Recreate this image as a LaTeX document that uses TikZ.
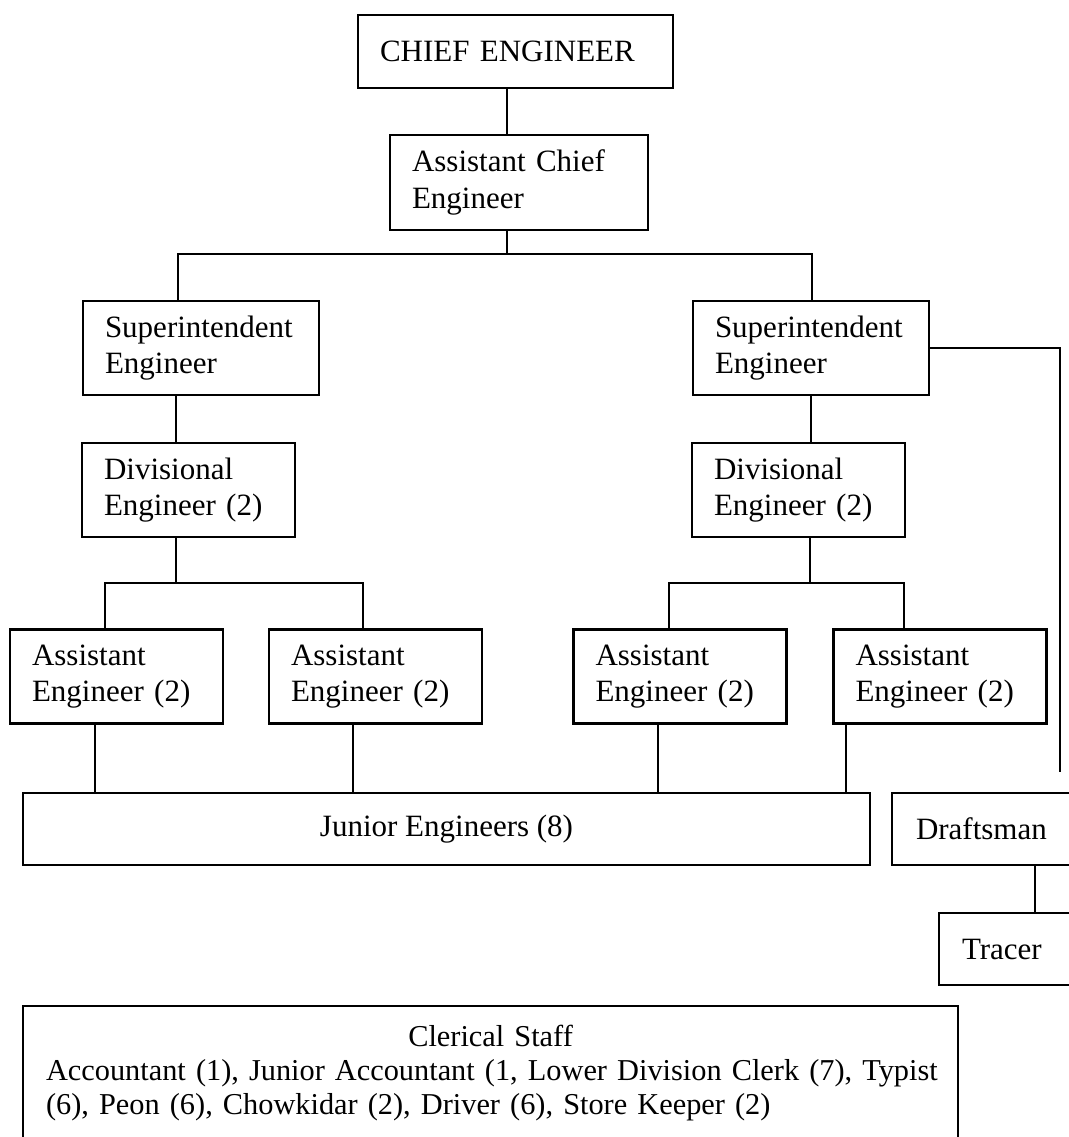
\documentclass[tikz,border=0pt]{standalone}
\usepackage{fontspec}
\setmainfont{Liberation Serif}
\usepackage{tikz}

\begin{document}
\begin{tikzpicture}[x=0.75pt,y=0.75pt,yscale=-1,xscale=1,
  post/.style={draw, line width=1.6pt, align=left, inner xsep=16.5pt, inner ysep=0pt, font=\fontsize{23.25pt}{27.5pt}\selectfont},
  link/.style={line width=1.6pt}]
%set diagram to the page, 1069 wide and 1137 high
\path[use as bounding box, clip] (0,0) rectangle (1069,1137);
% Text Node
\node[post, minimum height=54.75pt, text width=203.25pt] (chief) at (515.5,51.5) {CHIEF ENGINEER};
% Text Node
\node[post, minimum height=71.25pt, text width=160.5pt] (ace) at (519,182.5) {Assistant Chief\\Engineer};
% Text Node
\node[post, minimum height=70.5pt, text width=144pt] (supL) at (201,348) {Superintendent\\Engineer};
% Text Node
\node[post, minimum height=70.5pt, text width=144pt] (supR) at (811,348) {Superintendent\\Engineer};
% Text Node
\node[post, minimum height=70.5pt, text width=126.75pt] (divL) at (188.5,490) {Divisional\\Engineer (2)};
% Text Node
\node[post, minimum height=70.5pt, text width=126.75pt] (divR) at (798.5,490) {Divisional\\Engineer (2)};
% Text Node
\node[post, minimum height=70.5pt, text width=126.75pt] (ae1) at (116.5,676.5) {Assistant\\Engineer (2)};
% Text Node
\node[post, minimum height=70.5pt, text width=126.75pt] (ae2) at (375.5,676.5) {Assistant\\Engineer (2)};
% Text Node
\node[post, minimum height=70.5pt, text width=126.75pt] (ae3) at (680,676.5) {Assistant\\Engineer (2)};
% Text Node
\node[post, minimum height=70.5pt, text width=126.75pt] (ae4) at (940,676.5) {Assistant\\Engineer (2)};
% Text Node
\node[post, align=center, minimum width=635.25pt, minimum height=54pt] (junior) at (446.5,829) {Junior Engineers (8)};
% Text Node
\node[post, inner xsep=18pt, minimum height=54pt, text width=116.25pt] (draft) at (993.5,829) {Draftsman};
% Text Node
\node[post, inner xsep=17.25pt, minimum height=54pt, text width=82.5pt] (tracer) at (1017,949) {Tracer};
% Text Node
\node[post, anchor=north west, inner xsep=17.25pt, inner ysep=14pt, text width=666.75pt, font=\fontsize{22.75pt}{25.5pt}\selectfont] (clerk) at (22,1005)
  {{\centering Clerical Staff\par}
   \mbox{Accountant (1), Junior Accountant (1, Lower Division Clerk (7), Typist}\\
   \mbox{(6), Peon (6), Chowkidar (2), Driver (6), Store Keeper (2)}\\ \mbox{}};
%Junction points
\coordinate (spine) at (507,254);
\coordinate (busL) at (178,254);
\coordinate (busR) at (812,254);
\coordinate (jL) at (176,583);
\coordinate (bL1) at (105,583);
\coordinate (bL2) at (363,583);
\coordinate (jR) at (810,583);
\coordinate (bR1) at (669,583);
\coordinate (bR2) at (904,583);
\coordinate (dj1) at (95,793);
\coordinate (dj2) at (353,793);
\coordinate (dj3) at (658,793);
\coordinate (dj4) at (846,793);
\coordinate (side) at (1060,772);
\coordinate (dt) at (1035,900);
%Straight Lines
\draw[link] (chief.south -| spine) -- (ace.north -| spine);
\draw[link] (ace.south -| spine) -- (spine);
\draw[link] (supL.north -| busL) -- (busL) -- (busR) -- (supR.north -| busR);
%Straight Lines
\draw[link] (supL.south -| jL) -- (divL.north -| jL);
\draw[link] (divL.south -| jL) -- (jL);
\draw[link] (ae1.north -| bL1) -- (bL1) -- (bL2) -- (ae2.north -| bL2);
\draw[link] (supR.south) -- (divR.north -| supR.south);
\draw[link] (divR.south -| jR) -- (jR);
\draw[link] (ae3.north -| bR1) -- (bR1) -- (bR2) -- (ae4.north -| bR2);
%Straight Lines
\foreach \n in {1,...,4}
  \draw[link] (ae\n.south -| dj\n) -- (dj\n);
\draw[link] (supR.east) -| (side);
\draw[link] (draft.south -| dt) -- (tracer.north -| dt);
\end{tikzpicture}
\end{document}
